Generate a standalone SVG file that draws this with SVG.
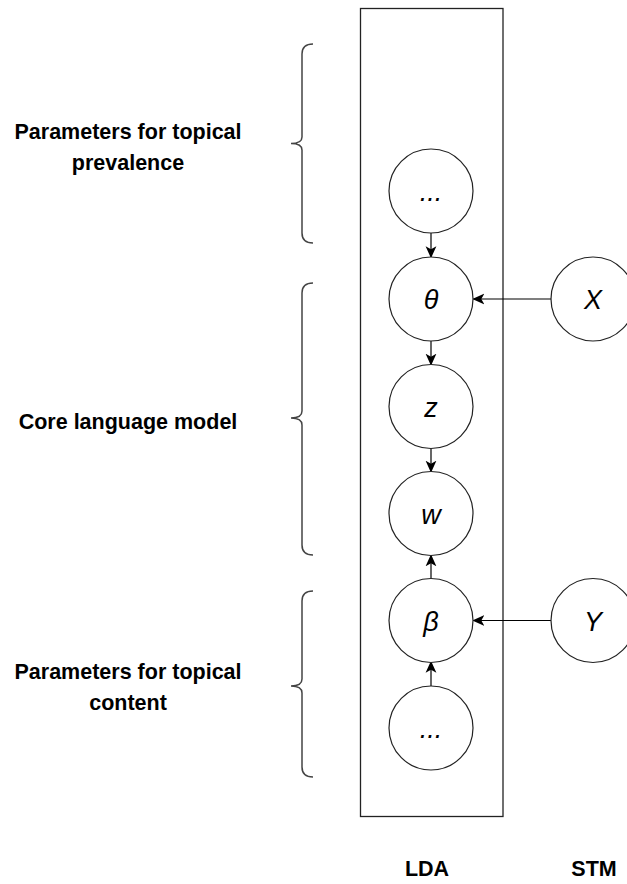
<svg xmlns="http://www.w3.org/2000/svg" width="627" height="884" viewBox="0 0 627 884">
<style>
.lbl{font-family:"Liberation Sans",Arial,Helvetica,sans-serif;font-weight:bold;font-size:21.5px;fill:#000;text-anchor:middle}
.nt{font-family:"Liberation Sans",Arial,Helvetica,sans-serif;font-style:italic;font-size:27px;fill:#000;text-anchor:middle}
.node{fill:#fff;stroke:#222;stroke-width:1.2}
.brace{fill:none;stroke:#444;stroke-width:1.5}
.edge{stroke:#000;stroke-width:1.2;fill:none;marker-end:url(#arr)}
</style>
<defs>
<marker id="arr" markerUnits="userSpaceOnUse" markerWidth="12" markerHeight="12" viewBox="0 0 10 10" refX="9" refY="5" orient="auto">
<path d="M0,0.5 L10,5 L0,9.5 L2.5,5 z" fill="#000"/>
</marker>
</defs>
<rect width="627" height="884" fill="#fff"/>
<rect id="plate" x="360.5" y="8.5" width="142.5" height="808" fill="none" stroke="#222" stroke-width="1.3"/>

<g id="braces">
<path class="brace" d="M313,44 Q302,44 302,54 L302,137 Q302,143.5 291,143.5 Q302,143.5 302,150 L302,233 Q302,243 313,243"/>
<path class="brace" d="M313,283 Q302,283 302,293 L302,411 Q302,418 291,418 Q302,418 302,425 L302,545 Q302,555 313,555"/>
<path class="brace" d="M313,591 Q302,591 302,601 L302,679 Q302,686 291,686 Q302,686 302,693 L302,767 Q302,777 313,777"/>
</g>

<g id="labels">
<text class="lbl" x="128" y="139">Parameters for topical</text>
<text class="lbl" x="128" y="170">prevalence</text>
<text class="lbl" x="128" y="429">Core language model</text>
<text class="lbl" x="128" y="679">Parameters for topical</text>
<text class="lbl" x="128" y="710">content</text>
<text class="lbl" x="427" y="876">LDA</text>
<text class="lbl" x="594" y="876">STM</text>
</g>

<g id="connectors">
<line class="edge" x1="431" y1="233" x2="431" y2="257"/>
<line class="edge" x1="431" y1="341" x2="431" y2="364.5"/>
<line class="edge" x1="431" y1="448.5" x2="431" y2="471.5"/>
<line class="edge" x1="431" y1="578" x2="431" y2="555.5"/>
<line class="edge" x1="431" y1="686" x2="431" y2="662"/>
<line class="edge" x1="551" y1="299" x2="473.5" y2="299"/>
<line class="edge" x1="551" y1="620.5" x2="473.5" y2="620.5"/>
</g>

<g id="n-top"><circle class="node" cx="431" cy="191" r="42"/><text class="nt" x="431" y="201">...</text></g>
<g id="n-theta"><circle class="node" cx="431" cy="299" r="42"/><text class="nt" x="431" y="309">θ</text></g>
<g id="n-z"><circle class="node" cx="431" cy="406.5" r="42"/><text class="nt" x="431" y="416.5">z</text></g>
<g id="n-w"><circle class="node" cx="431" cy="513.5" r="42"/><text class="nt" x="431" y="523.5">w</text></g>
<g id="n-beta"><circle class="node" cx="431" cy="620.5" r="42"/><text class="nt" x="431" y="630.5">β</text></g>
<g id="n-bottom"><circle class="node" cx="431" cy="728" r="42"/><text class="nt" x="431" y="738">...</text></g>
<g id="n-X"><circle class="node" cx="593" cy="299" r="42"/><text class="nt" x="593" y="309">X</text></g>
<g id="n-Y"><circle class="node" cx="593" cy="620.5" r="42"/><text class="nt" x="593" y="630.5">Y</text></g>
</svg>
